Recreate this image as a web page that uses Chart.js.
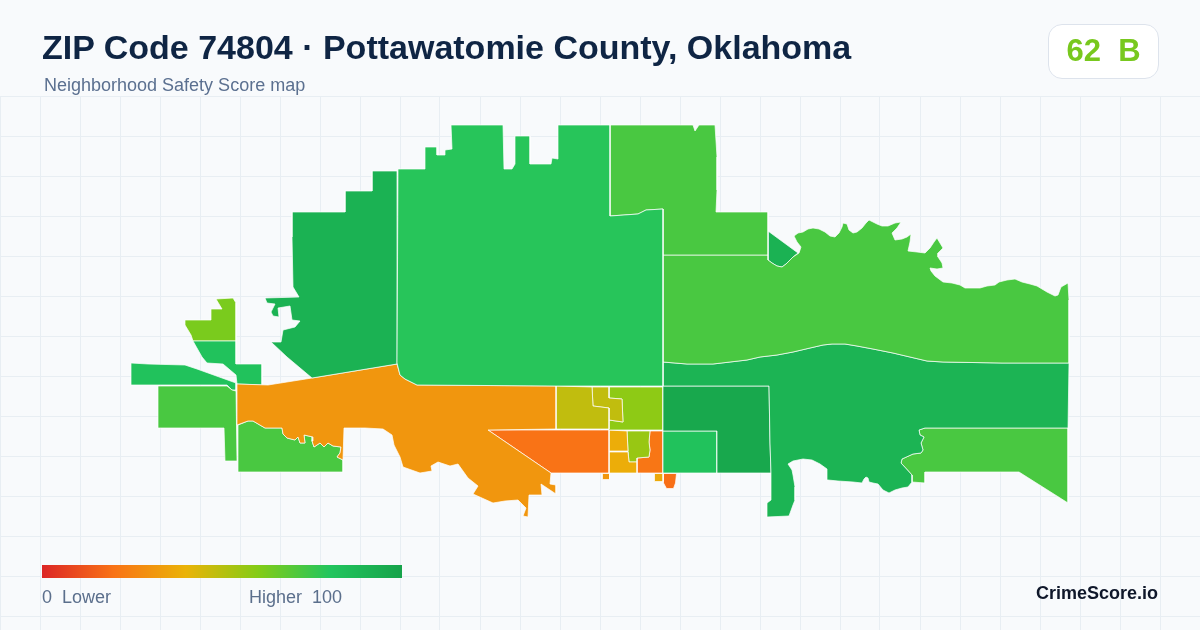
<!DOCTYPE html>
<html lang="en">
<head>
<meta charset="utf-8">
<title>ZIP Code 74804 · Pottawatomie County, Oklahoma</title>
<script src="https://cdn.jsdelivr.net/npm/chart.js@4"></script>
<style>
html,body{margin:0;padding:0;background:#f8fafc;width:1200px;height:630px;overflow:hidden;font-family:"Liberation Sans",Arial,sans-serif}
#wrap{position:relative;width:1200px;height:630px}
canvas{position:absolute;left:0;top:0}
.t{position:absolute;white-space:pre;line-height:1}
#title{left:42px;top:30px;font-size:34px;font-weight:700;color:#0f2544}
#sub{left:44px;top:76px;font-size:18px;color:#5b7090}
#badge{position:absolute;left:1048px;top:24px;width:109px;height:53px;background:#fff;border:1px solid #dde3ec;border-radius:14px}
#score{left:1048px;width:111px;top:35px;font-size:31px;font-weight:700;color:#78c81e;text-align:center}
#bar{position:absolute;left:42px;top:565px;width:360px;height:13px;background:linear-gradient(90deg,#dc2626 0%,#f97316 20%,#eab308 40%,#84cc16 60%,#22c55e 80%,#16a34a 100%)}
.lg{top:588px;font-size:18px;color:#5b6f8c}
#brand{left:1036px;top:584px;font-size:18px;font-weight:700;color:#0f172a}
</style>
</head>
<body>
<div id="wrap">
<canvas id="c" width="1200" height="630"></canvas>
<div class="t" id="title">ZIP Code 74804 · Pottawatomie County, Oklahoma</div>
<div class="t" id="sub">Neighborhood Safety Score map</div>
<div id="badge"></div>
<div class="t" id="score">62  B</div>
<div id="bar"></div>
<div class="t lg" style="left:42px">0  Lower</div>
<div class="t lg" style="left:249px">Higher  100</div>
<div class="t" id="brand">CrimeScore.io</div>
</div>
<script>
const gridXTicks = [0,40,80,120,160,200,240,280,320,360,400,440,480,520,560,600,640,680,720,760,800,840,880,920,960,1000,1040,1080,1120,1160,1200];
const gridYTicks = [96,136,176,216,256,296,336,376,416,456,496,536,576,616];

const scaleStops = [0,20,40,60,80,100];
const scaleColors = [[220,38,38],[249,115,22],[234,179,8],[132,204,22],[34,197,94],[22,163,74]];

const tractNames = ["northCentral","northWest","northEast","eastUpper","eastLower","southCentralBox","southSquare","westOrange","southWestGreen","westBlock","westBand","westConnector","westLime","eastSouthGreen","riverTriangle","oliveWest","oliveInner","limeNorth","redWest","amberNorth","amberSouth","limeInner","redEast","tinyOrange","tinyAmber","tinyRed"];
const tractScores = [79,91,72,72,90,97,82,31,72,72,82,82,62,72,91,48,48,58,20,38,38,56,21,31,37,19];

const northCentral = [[398,169],[425,169],[425,147],[437,147],[437,155],[445,155],[445,150],[452,149],[451,125],[503,125],[504,169],[512,169],[515,164],[515,136],[530,136],[530,164],[551,164],[552,158],[558,159],[558,125],[610,125],[610,216],[638,214],[646,210],[663,209],[663,386],[556,386],[417,385],[405,379],[400,375],[397,363]];
const northWest = [[397,171],[372,171],[372,191],[345,191],[345,212],[292,212],[292,237],[293,287],[299,297],[265,298],[267,303],[275,304],[271,312],[273,316],[279,317],[278,308],[290,306],[292,320],[300,321],[295,327],[283,330],[281,342],[271,342],[287,357],[312,378],[397,364]];
const northEast = [[610,125],[693,125],[695,131],[699,125],[715,125],[717,157],[717,190],[716,212],[768,212],[768,255],[663,255],[663,209],[646,210],[638,214],[610,216]];
const eastUpper = [[663,255],[768,255],[768,260],[772,263],[777,266],[782,267],[786,264],[791,259],[793,257],[799,253],[801,247],[797,242],[794,236],[798,233],[803,232],[808,229],[813,228],[819,229],[825,232],[830,236],[835,237],[839,233],[842,227],[843,223],[847,224],[849,230],[853,233],[857,232],[862,228],[866,223],[869,220],[873,222],[877,224],[882,226],[888,226],[895,223],[901,222],[897,228],[892,233],[895,240],[902,239],[907,237],[911,234],[910,242],[908,251],[917,252],[925,253],[930,248],[934,242],[937,238],[940,243],[943,248],[938,253],[938,257],[942,263],[943,268],[937,269],[930,268],[931,271],[935,276],[943,282],[952,283],[960,285],[965,288],[980,288],[987,286],[995,285],[999,282],[1007,280],[1015,279],[1022,282],[1030,284],[1037,286],[1047,292],[1055,296],[1058,295],[1061,287],[1068,283],[1069,300],[1069,363],[1002,363],[943,362],[927,361],[910,357],[893,353],[873,349],[857,346],[845,344],[832,344],[823,345],[810,348],[793,352],[777,355],[760,357],[747,360],[713,364],[687,364],[663,362]];
const eastLower = [[663,362],[687,364],[713,364],[747,360],[760,357],[777,355],[793,352],[810,348],[823,345],[832,344],[845,344],[857,346],[873,349],[893,353],[910,357],[927,361],[943,362],[1002,363],[1069,363],[1068,428],[925,428],[919,430],[920,435],[924,437],[921,443],[923,450],[921,453],[913,454],[902,459],[901,463],[912,475],[912,482],[908,487],[902,488],[895,490],[889,493],[883,490],[878,484],[873,483],[869,482],[868,478],[866,477],[864,479],[862,483],[853,482],[838,481],[828,480],[827,469],[820,464],[812,460],[803,459],[793,461],[788,464],[792,470],[793,475],[795,487],[795,500],[793,505],[789,516],[767,517],[767,503],[771,500],[771,473],[770,443],[769,386],[663,386]];
const southCentralBox = [[663,386],[769,386],[770,443],[771,473],[717,473],[717,431],[663,431]];
const southSquare = [[663,431],[717,431],[717,473],[663,473]];
const westOrange = [[237,384],[268,385],[312,378],[397,364],[400,375],[405,379],[417,385],[556,386],[556,429],[488,430],[551,473],[550,484],[556,485],[556,494],[541,484],[542,495],[529,495],[528,517],[523,516],[526,508],[518,500],[505,501],[493,503],[473,494],[478,486],[468,478],[458,464],[450,466],[438,462],[431,466],[432,471],[420,473],[403,467],[400,457],[394,445],[392,435],[383,429],[365,428],[344,428],[343,460],[337,457],[340,453],[341,447],[333,446],[328,443],[324,447],[320,443],[314,447],[312,441],[313,437],[304,435],[305,443],[300,443],[298,437],[295,440],[287,438],[283,434],[282,428],[265,428],[253,421],[248,421],[237,425]];
const southWestGreen = [[238,425],[248,421],[253,421],[265,428],[282,428],[283,434],[287,438],[295,440],[298,437],[300,443],[305,443],[304,435],[313,437],[312,441],[314,447],[320,443],[324,447],[328,443],[333,446],[341,447],[340,453],[337,457],[343,460],[343,472],[238,472]];
const westBlock = [[158,386],[227,386],[232,390],[236,391],[237,461],[225,461],[224,428],[158,428]];
const westBand = [[131,363],[148,364],[185,365],[197,369],[236,383],[236,390],[232,390],[227,385],[178,385],[131,385]];
const westConnector = [[193,341],[236,341],[236,364],[262,364],[262,385],[237,384],[236,375],[223,364],[207,363],[202,357]];
const westLime = [[216,299],[233,298],[236,303],[236,341],[193,341],[191,335],[185,325],[185,320],[211,320],[211,309],[222,309]];
const eastSouthGreen = [[925,428],[1068,428],[1068,503],[1019,472],[925,472],[925,483],[912,482],[912,475],[901,463],[902,459],[913,454],[921,453],[923,450],[921,443],[924,437],[920,435],[919,430]];
const riverTriangle = [[768,231],[798,253],[793,257],[786,264],[782,267],[777,266],[772,263],[768,260]];
const oliveWest = [[556,386],[592,387],[593,406],[609,408],[609,429],[556,429]];
const oliveInner = [[592,387],[609,387],[609,398],[622,399],[623,422],[616,421],[609,420],[609,408],[593,406]];
const limeNorth = [[609,387],[663,387],[663,430],[609,430],[609,420],[616,421],[623,422],[622,399],[609,398]];
const redWest = [[488,430],[609,430],[609,473],[551,473]];
const amberNorth = [[609,430],[627,431],[628,451],[609,451]];
const amberSouth = [[609,452],[628,452],[629,462],[637,462],[637,473],[609,473]];
const limeInner = [[627,431],[650,431],[649,442],[650,450],[649,457],[637,458],[637,462],[629,462],[628,451]];
const redEast = [[650,431],[663,431],[663,473],[637,473],[637,458],[649,457],[650,450],[649,442]];
const tinyOrange = [[602.5,473.5],[609.5,473.5],[609.5,479.5],[602.5,479.5]];
const tinyAmber = [[654.5,473.5],[663,473.5],[663,481.5],[654.5,481.5]];
const tinyRed = [[663.5,473.5],[676.5,473.5],[675.5,483],[673.5,488.5],[666.5,488.5],[663.5,483]];

const tractShapes = [northCentral,northWest,northEast,eastUpper,eastLower,southCentralBox,southSquare,westOrange,southWestGreen,westBlock,westBand,westConnector,westLime,eastSouthGreen,riverTriangle,oliveWest,oliveInner,limeNorth,redWest,amberNorth,amberSouth,limeInner,redEast,tinyOrange,tinyAmber,tinyRed];

function colorFor(score){
  let i = 0;
  while (i < scaleStops.length - 2 && score > scaleStops[i+1]) i++;
  const f = (score - scaleStops[i]) / (scaleStops[i+1] - scaleStops[i]);
  const a = scaleColors[i], b = scaleColors[i+1];
  return "rgb(" + a.map((v,k)=>Math.round(v + (b[k]-v)*f)).join(",") + ")";
}

const datasets = tractShapes.map((shape,i)=>{
  const pts = shape.concat([shape[0]]).map(p=>({x:p[0],y:p[1]}));
  return {
    label: tractNames[i],
    data: pts,
    showLine: true,
    fill: "shape",
    backgroundColor: colorFor(tractScores[i]),
    borderColor: "#ffffff",
    borderWidth: 0.7,
    pointRadius: 0,
    pointHoverRadius: 0,
    tension: 0
  };
});

new Chart(document.getElementById("c"),{
  type:"scatter",
  data:{datasets},
  options:{
    responsive:false,
    devicePixelRatio:1,
    animation:false,
    events:[],
    layout:{padding:{top:96,left:0,right:0,bottom:0}},
    plugins:{legend:{display:false},title:{display:false},tooltip:{enabled:false}},
    scales:{
      x:{type:"linear",min:0,max:1200,
        afterBuildTicks:s=>{s.ticks=gridXTicks.map(v=>({value:v}))},
        ticks:{display:false},
        border:{display:false},
        grid:{color:"#e8eef3",lineWidth:1,drawTicks:false}},
      y:{type:"linear",min:96,max:630,reverse:true,
        afterBuildTicks:s=>{s.ticks=gridYTicks.map(v=>({value:v}))},
        ticks:{display:false},
        border:{display:false},
        grid:{color:"#e8eef3",lineWidth:1,drawTicks:false}}
    }
  }
});
</script>
</body>
</html>
